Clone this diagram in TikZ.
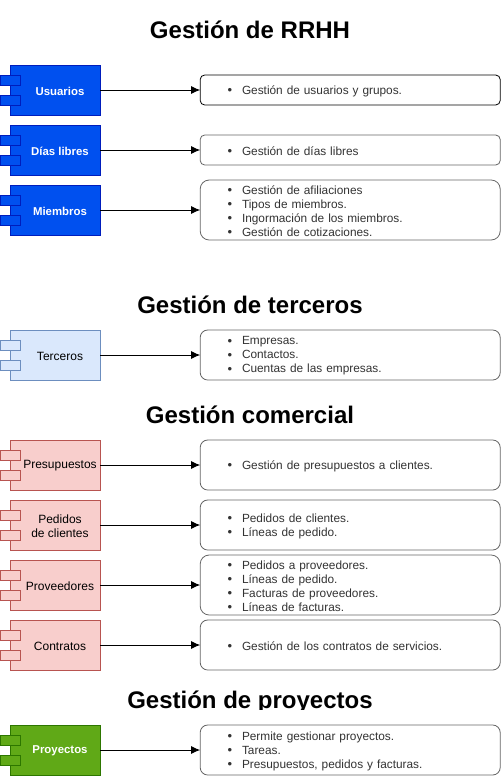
\documentclass[tikz,border=0pt]{standalone}
\usepackage{fontspec}
\setmainfont{Liberation Sans}
\usetikzlibrary{arrows.meta}
\definecolor{bluefill}{HTML}{0050EF}\definecolor{bluedraw}{HTML}{001DBC}
\definecolor{lbfill}{HTML}{DAE8FC}\definecolor{lbdraw}{HTML}{6C8EBF}
\definecolor{redfill}{HTML}{F8CECC}\definecolor{reddraw}{HTML}{B85450}
\definecolor{greenfill}{HTML}{60A917}\definecolor{greendraw}{HTML}{2D7600}
\definecolor{descdraw}{HTML}{666666}\definecolor{desctext}{HTML}{333333}
\tikzset{
  compbody/.style={rectangle,minimum width=90pt,minimum height=50pt,inner sep=0pt,outer sep=0pt,line width=.8pt},
  compport/.style={rectangle,minimum width=20pt,minimum height=10pt,inner sep=0pt,outer sep=0pt,line width=.8pt},
  complabel/.style={inner sep=0pt,align=center,font=\fontsize{12}{14}\selectfont},
  cblue/.style={fill=bluefill,draw=bluedraw},
  clight/.style={fill=lbfill,draw=lbdraw},
  cred/.style={fill=redfill,draw=reddraw},
  cgreen/.style={fill=greenfill,draw=greendraw},
  descbox/.style={rectangle,rounded corners=#1,minimum width=300pt,inner sep=0pt,outer sep=0pt,draw=descdraw,fill=white,line width=.8pt},
  desctxt/.style={inner sep=0pt,text=desctext,text width=300pt,align=left,font=\fontsize{11.85}{14}\selectfont},
  titletext/.style={inner sep=0pt,anchor=base,font=\fontsize{24}{28}\selectfont\bfseries},
  link/.style={line width=1pt,-{Latex[length=9pt,width=8pt]}}
}
\newcommand{\itm}[1]{\hspace*{27.5pt}\makebox[14.5pt][l]{\fontsize{13}{13}\selectfont\raisebox{-.3pt}{•}}#1}
% name, top y, colour style, text colour, label
\newcommand{\comp}[5]{%
  \node[compbody,#3,anchor=north west] (#1) at (10,#2) {};
  \node[compport,#3,anchor=north west] (#1p) at (0,#2+10) {};
  \node[compport,#3,anchor=north west] (#1q) at (0,#2+30) {};
  \node[complabel,text=#4] (#1t) at (60,#2+26) {#5};
}
% border colour, name, radius, height, centre y, items
\newcommand{\desc}[6][descdraw]{%
  \node[descbox=#4,draw=#1,minimum height=#5] (#2) at (350.2,#3) {};
  \node[desctxt] (#2t) at (350,#3+1) {#6};
}
\newcommand{\bl}[1]{{\fontsize{11.4}{14}\selectfont\bfseries #1}}
\begin{document}
\begin{tikzpicture}[x=1pt,y=-1pt]
\useasboundingbox (0,0) rectangle (502,784);
\fill[white] (0,0) rectangle (502,784);

\node[titletext] (t1) at (250,38.6) {Gestión de RRHH};
\node[titletext] (t2) at (250,313.6) {Gestión de terceros};
\node[titletext] (t3) at (250,423.6) {Gestión comercial};
\node[titletext] (t4) at (250,708) {Gestión de proyectos};
\fill[white] (100,710) rectangle (400,722);

\comp{usu}{65}{cblue}{white}{\bl{Usuarios}}
\comp{dia}{125}{cblue}{white}{\bl{Días libres}}
\comp{mie}{185}{cblue}{white}{\bl{Miembros}}
\comp{ter}{330}{clight}{black}{Terceros}
\comp{pre}{440}{cred}{black}{Presupuestos}
\comp{ped}{500}{cred}{black}{Pedidos\\de clientes}
\comp{pro}{560}{cred}{black}{Proveedores}
\comp{con}{620}{cred}{black}{Contratos}
\comp{pry}{725}{cgreen}{white}{\bl{Proyectos}}

\desc[black]{dusu}{90}{4.5pt}{30pt}{\itm{Gestión de usuarios y grupos.}}
\desc{ddia}{150}{4.5pt}{30pt}{\itm{Gestión de días libres}}
\desc{dmie}{210}{9pt}{60pt}{\itm{Gestión de afiliaciones}\\\itm{Tipos de miembros.}\\\itm{Ingormación de los miembros.}\\\itm{Gestión de cotizaciones.}}
\desc{dter}{355}{7.5pt}{50pt}{\itm{Empresas.}\\\itm{Contactos.}\\\itm{Cuentas de las empresas.}}
\desc{dpre}{465}{7.5pt}{50pt}{\itm{Gestión de presupuestos a clientes.}}
\desc{dped}{525}{7.5pt}{50pt}{\itm{Pedidos de clientes.}\\\itm{Líneas de pedido.}}
\desc{dpro}{585}{9pt}{60pt}{\itm{Pedidos a proveedores.}\\\itm{Líneas de pedido.}\\\itm{Facturas de proveedores.}\\\itm{Líneas de facturas.}}
\desc{dcon}{645}{7.5pt}{50pt}{\itm{Gestión de los contratos de servicios.}}
\desc{dpry}{750}{7.5pt}{50pt}{\itm{Permite gestionar proyectos.}\\\itm{Tareas.}\\\itm{Presupuestos, pedidos y facturas.}}

\foreach \a/\b in {usu/dusu,dia/ddia,mie/dmie,ter/dter,pre/dpre,ped/dped,pro/dpro,con/dcon,pry/dpry}
  \draw[link] (\a.east) -- (\b.west);
\end{tikzpicture}
\end{document}
